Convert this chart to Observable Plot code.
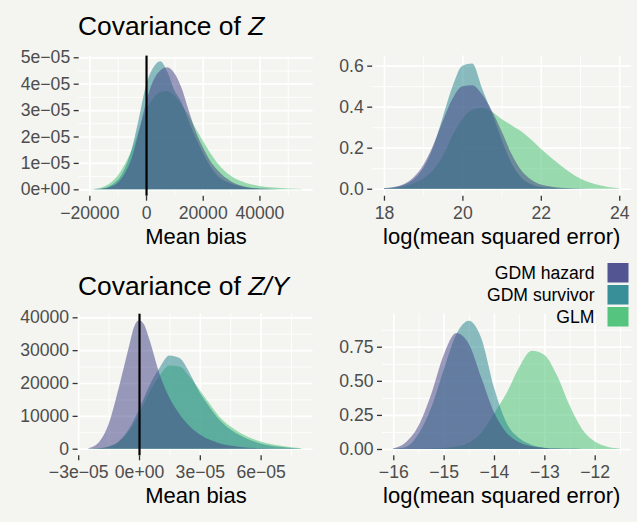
<!DOCTYPE html>
<html><head><meta charset="utf-8">
<script src="https://cdn.jsdelivr.net/npm/d3@7"></script>
<script src="https://cdn.jsdelivr.net/npm/@observablehq/plot@0.6"></script>
<style>
html,body{margin:0;padding:0;background:#f4f4f0;}
#chart{position:relative;width:637px;height:522px;background:#f4f4f0;overflow:hidden;font-family:"Liberation Sans",Arial,Helvetica,sans-serif;}
</style></head><body><div id="chart"></div>
<script>
// ---------- data ----------
const seriesNames = ["GDM hazard", "GDM survivor", "GLM"];

// Panel 1: Covariance of Z, mean bias
const p1X = [-20000,-17500,-15000,-12500,-10000,-7500,-5000,-2500,0,2500,5000,7500,10000,12500,15000,17500,20000,22500,25000,30000,35000,40000,45000,50000,55000];
const p1Hazard   = [0,0.008e-5,0.03e-5,0.1e-5,0.25e-5,0.6e-5,1.2e-5,2.2e-5,3.3e-5,4.1e-5,4.5e-5,4.62e-5,4.4e-5,3.85e-5,3.0e-5,2.2e-5,1.6e-5,1.1e-5,0.75e-5,0.3e-5,0.1e-5,0.03e-5,0.01e-5,0,0];
const p1Survivor = [0,0.01e-5,0.04e-5,0.14e-5,0.35e-5,0.78e-5,1.55e-5,2.7e-5,3.95e-5,4.6e-5,4.85e-5,4.45e-5,3.75e-5,3.3e-5,2.6e-5,1.95e-5,1.4e-5,0.9e-5,0.54e-5,0.22e-5,0.08e-5,0.025e-5,0.005e-5,0,0];
const p1Glm      = [0.005e-5,0.03e-5,0.1e-5,0.25e-5,0.52e-5,0.95e-5,1.5e-5,2.25e-5,3.0e-5,3.45e-5,3.68e-5,3.72e-5,3.55e-5,3.2e-5,2.8e-5,2.3e-5,1.85e-5,1.4e-5,1.02e-5,0.5e-5,0.25e-5,0.13e-5,0.07e-5,0.03e-5,0.01e-5];
const p1XTicks = [-20000,0,20000,40000];
const p1XLabels = ["\u221220000","0","20000","40000"];
const p1XMinor = [-10000,10000,30000,50000];
const p1YTicks = [0,1e-5,2e-5,3e-5,4e-5,5e-5];
const p1YLabels = ["0e+00","1e\u221205","2e\u221205","3e\u221205","4e\u221205","5e\u221205"];
const p1YMinor = [0.5e-5,1.5e-5,2.5e-5,3.5e-5,4.5e-5];

// Panel 2: Covariance of Z, log(MSE)
const p2X = [18,18.25,18.5,18.75,19,19.25,19.5,19.75,20,20.25,20.5,20.75,21,21.25,21.5,21.75,22,22.5,23,23.5,24];
const p2Hazard   = [0.003,0.008,0.022,0.055,0.115,0.21,0.33,0.44,0.5,0.505,0.46,0.38,0.28,0.17,0.09,0.045,0.02,0.005,0.001,0,0];
const p2Survivor = [0.002,0.006,0.018,0.045,0.1,0.2,0.35,0.5,0.6,0.61,0.49,0.37,0.24,0.125,0.055,0.022,0.008,0.002,0,0,0];
const p2Glm      = [0.001,0.004,0.01,0.025,0.05,0.09,0.16,0.26,0.34,0.385,0.395,0.375,0.34,0.31,0.28,0.24,0.195,0.115,0.05,0.017,0.002];
const p2XTicks = [18,20,22,24];
const p2XLabels = ["18","20","22","24"];
const p2XMinor = [19,21,23];
const p2YTicks = [0,0.2,0.4,0.6];
const p2YLabels = ["0.0","0.2","0.4","0.6"];
const p2YMinor = [0.1,0.3,0.5];

// Panel 3: Covariance of Z/Y, mean bias
const p3X = [-2.5e-5,-2e-5,-1.5e-5,-1e-5,-0.5e-5,-0.25e-5,0,0.25e-5,0.5e-5,1e-5,1.5e-5,2e-5,2.5e-5,3e-5,3.5e-5,4e-5,4.5e-5,5e-5,6e-5,7e-5,8e-5];
const p3Hazard   = [100,1800,7500,18500,31000,37000,39100,37800,33500,23000,15500,10500,6800,4300,2700,1600,950,550,150,30,0];
const p3Survivor = [0,150,700,2300,6000,8700,12000,15500,19000,24500,28400,27600,23000,17000,12500,8600,5900,4000,1600,500,60];
const p3Glm      = [0,120,600,2000,5300,7700,10500,13700,17000,22000,25300,25000,21800,17800,13500,9500,6800,4800,2200,900,150];
const p3XTicks = [-3e-5,0,3e-5,6e-5];
const p3XLabels = ["\u22123e\u221205","0e+00","3e\u221205","6e\u221205"];
const p3XMinor = [-1.5e-5,1.5e-5,4.5e-5,7.5e-5];
const p3YTicks = [0,10000,20000,30000,40000];
const p3YLabels = ["0","10000","20000","30000","40000"];
const p3YMinor = [5000,15000,25000,35000];

// Panel 4: Covariance of Z/Y, log(MSE)
const p4X = [-16,-15.75,-15.5,-15.25,-15,-14.75,-14.5,-14.25,-14,-13.75,-13.5,-13.25,-13,-12.75,-12.5,-12.25,-12,-11.75,-11.5];
const p4Hazard   = [0.005,0.05,0.17,0.4,0.69,0.85,0.77,0.52,0.27,0.12,0.05,0.02,0.008,0.003,0.001,0,0,0,0];
const p4Survivor = [0.002,0.015,0.11,0.3,0.58,0.84,0.94,0.81,0.45,0.19,0.08,0.03,0.01,0.003,0.001,0,0,0,0];
const p4Glm      = [0,0,0.001,0.003,0.007,0.018,0.045,0.12,0.26,0.41,0.6,0.72,0.69,0.54,0.32,0.145,0.055,0.017,0.003];
const p4XTicks = [-16,-15,-14,-13,-12];
const p4XLabels = ["\u221216","\u221215","\u221214","\u221213","\u221212"];
const p4XMinor = [-15.5,-14.5,-13.5,-12.5,-11.5];
const p4YTicks = [0,0.25,0.5,0.75];
const p4YLabels = ["0.00","0.25","0.50","0.75"];
const p4YMinor = [0.125,0.375,0.625,0.875];

// ---------- style ----------
const COL_HAZ = "#414487", COL_SURV = "#25848E", COL_GLM = "#43BF71";
const FONT = "'Liberation Sans', Arial, Helvetica, sans-serif";
const chart = document.getElementById("chart");

function drawPanel(o) {
  const fmt = (t, l) => { const m = new Map(t.map((v, i) => [v, l[i]])); return d => m.get(d); };
  const layers = [[o.glm, COL_GLM], [o.survivor, COL_SURV], [o.hazard, COL_HAZ]];
  const marks = [
    Plot.gridX(o.xMinor, {stroke: "#ffffff", strokeOpacity: 1, strokeWidth: 0.9}),
    Plot.gridY(o.yMinor, {stroke: "#ffffff", strokeOpacity: 1, strokeWidth: 0.9}),
    Plot.gridX(o.xTicks, {stroke: "#ffffff", strokeOpacity: 1, strokeWidth: 1.7}),
    Plot.gridY(o.yTicks, {stroke: "#ffffff", strokeOpacity: 1, strokeWidth: 1.7}),
    ...layers.map(([vals, col]) => Plot.areaY(o.xs.map((x, i) => ({x, y: vals[i]})),
      {x: "x", y: "y", fill: col, fillOpacity: 0.52, curve: "monotone-x"}))
  ];
  if (o.zero) marks.push(Plot.ruleX([0], {stroke: "#000", strokeWidth: 2.2}));
  marks.push(Plot.axisX(o.xTicks, {anchor: "bottom", tickFormat: fmt(o.xTicks, o.xLabels), tickSize: 5, tickPadding: 5,
    fontSize: 17.6, fill: "#4d4d4d", stroke: "#333333", strokeWidth: 1.3, label: null}));
  marks.push(Plot.axisY(o.yTicks, {anchor: "left", tickFormat: fmt(o.yTicks, o.yLabels), tickSize: 5, tickPadding: 4,
    fontSize: 17.6, fill: "#4d4d4d", stroke: "#333333", strokeWidth: 1.3, label: null}));
  const svg = Plot.plot({
    width: o.width, height: o.height,
    marginLeft: o.mL, marginRight: o.mR, marginTop: o.mT, marginBottom: o.mB,
    x: {domain: o.xDomain}, y: {domain: o.yDomain},
    style: {background: "transparent", fontFamily: FONT, color: "#4d4d4d", overflow: "visible"},
    marks
  });
  svg.style.position = "absolute";
  svg.style.left = o.left + "px";
  svg.style.top = o.top + "px";
  chart.appendChild(svg);
}

drawPanel({left: 0, top: 40, width: 318, height: 190, mL: 78.7, mR: 5.4, mT: 15.6, mB: 34.3,
  xDomain: [-23750, 58750], yDomain: [-0.242e-5, 5.064e-5],
  xs: p1X, hazard: p1Hazard, survivor: p1Survivor, glm: p1Glm, zero: true,
  xTicks: p1XTicks, xLabels: p1XLabels, xMinor: p1XMinor, yTicks: p1YTicks, yLabels: p1YLabels, yMinor: p1YMinor});
drawPanel({left: 318, top: 40, width: 319, height: 190, mL: 54.2, mR: 6, mT: 15.6, mB: 34.3,
  xDomain: [17.7, 24.3], yDomain: [-0.034, 0.649],
  xs: p2X, hazard: p2Hazard, survivor: p2Survivor, glm: p2Glm, zero: false,
  xTicks: p2XTicks, xLabels: p2XLabels, xMinor: p2XMinor, yTicks: p2YTicks, yLabels: p2YLabels, yMinor: p2YMinor});
drawPanel({left: 0, top: 300, width: 318, height: 190, mL: 77.6, mR: 5.5, mT: 13.7, mB: 34.7,
  xDomain: [-3.03e-5, 8.56e-5], yDomain: [-2009, 41096],
  xs: p3X, hazard: p3Hazard, survivor: p3Survivor, glm: p3Glm, zero: true,
  xTicks: p3XTicks, xLabels: p3XLabels, xMinor: p3XMinor, yTicks: p3YTicks, yLabels: p3YLabels, yMinor: p3YMinor});
drawPanel({left: 318, top: 300, width: 319, height: 190, mL: 64, mR: 5.7, mT: 13.7, mB: 34.7,
  xDomain: [-16.224, -11.273], yDomain: [-0.0462, 0.992],
  xs: p4X, hazard: p4Hazard, survivor: p4Survivor, glm: p4Glm, zero: false,
  xTicks: p4XTicks, xLabels: p4XLabels, xMinor: p4XMinor, yTicks: p4YTicks, yLabels: p4YLabels, yMinor: p4YMinor});

// ---------- titles, axis titles, legend ----------
const ov = d3.create("svg").attr("width", 637).attr("height", 522)
  .style("position", "absolute").style("left", "0px").style("top", "0px")
  .style("font-family", FONT);
function title(x, y, plain, ital) {
  const t = ov.append("text").attr("x", x).attr("y", y).attr("font-size", 26.4).attr("fill", "#000");
  t.append("tspan").text(plain);
  t.append("tspan").attr("font-style", "italic").text(ital);
}
title(78, 35, "Covariance of ", "Z");
title(78, 295, "Covariance of ", "Z/Y");
function axTitle(x, y, s) {
  ov.append("text").attr("x", x).attr("y", y).attr("text-anchor", "middle").attr("font-size", 22).attr("fill", "#000").text(s);
}
axTitle(196, 244, "Mean bias");
axTitle(501.7, 244, "log(mean squared error)");
axTitle(196, 503, "Mean bias");
axTitle(501.7, 503, "log(mean squared error)");

const legendColors = [COL_HAZ, COL_SURV, COL_GLM];
seriesNames.forEach((name, i) => {
  const y0 = 263 + i * 22;
  ov.append("rect").attr("x", 607.5).attr("y", y0).attr("width", 21).attr("height", 19.5)
    .attr("fill", legendColors[i]).attr("fill-opacity", 0.9);
  ov.append("text").attr("x", 594.5).attr("y", y0 + 16).attr("text-anchor", "end")
    .attr("font-size", 17.6).attr("fill", "#000").text(name);
});
chart.appendChild(ov.node());
</script></body></html>
